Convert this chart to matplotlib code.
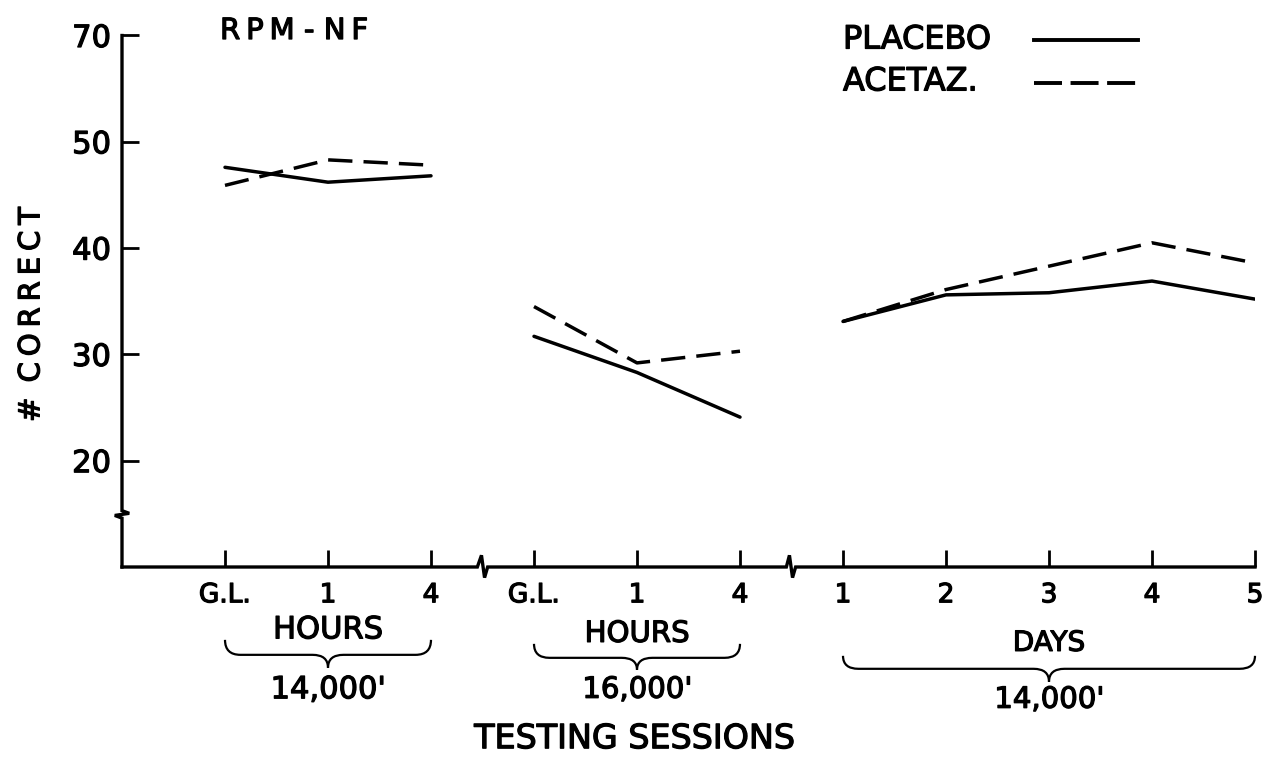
import matplotlib
matplotlib.use("Agg")
import matplotlib.pyplot as plt
from matplotlib.path import Path
from matplotlib.patches import PathPatch
import matplotlib.patheffects as pe

plt.rcParams['font.family'] = ['DejaVu Sans']

# ---- data ----
tick_labels = ["G.L.", "1", "4", "G.L.", "1", "4", "1", "2", "3", "4", "5"]
sessions = list(range(1, 12))            # category index of each testing session
group1 = [1, 2, 3]                       # 14,000' hours
group2 = [4, 5, 6]                       # 16,000' hours
group3 = [7, 8, 9, 10, 11]               # 14,000' days

placebo_g1 = [47.6, 46.2, 46.8]
placebo_g2 = [31.7, 28.3, 24.1]
placebo_g3 = [33.1, 35.6, 35.8, 36.9, 35.2]

acetaz_g1 = [45.9, 48.3, 47.8]
acetaz_g2 = [34.5, 29.2, 30.3]
acetaz_g3 = [33.1, 36.1, 38.3, 40.5, 38.6]

ytick_vals = [20, 30, 40, 50, 60]
ytick_labels = ["20", "30", "40", "50", "70"]

group_names = ["HOURS", "HOURS", "DAYS"]
altitudes = ["14,000'", "16,000'", "14,000'"]

# ---- figure ----
W, H = 1266, 761
fig = plt.figure(figsize=(W / 100, H / 100), dpi=100)
ax = fig.add_axes([122 / W, 1 - 567 / H, (1255 - 122) / W, (567 - 35.5) / H])
ax.set_xlim(0, 11)
ax.set_ylim(10, 60)
for s in ax.spines.values():
    s.set_visible(False)

bold = [pe.withStroke(linewidth=0.9, foreground='black')]

def py(p):
    """pixel row -> data y (for annotations under the axis)"""
    return 10 - (p - 567) / 10.65

lw = 2.5
dash = (0, (7, 3.2))
for xs, ys in [(group1, placebo_g1), (group2, placebo_g2), (group3, placebo_g3)]:
    ax.plot(xs, ys, color='black', lw=lw, solid_capstyle='round')
for xs, ys in [(group1, acetaz_g1), (group2, acetaz_g2), (group3, acetaz_g3)]:
    ax.plot(xs, ys, color='black', lw=lw, linestyle=dash)

# axes lines with breaks
k = dict(color='black', lw=2.4, clip_on=False, solid_joinstyle='miter')
ax.plot([0, 0, 0.07, -0.07, 0, 0], [60, 15.3, 15.05, 14.85, 14.6, 10], **k)
ax.plot([0, 3.45, 3.49, 3.52, 3.55, 6.45, 6.48, 6.51, 6.54, 11],
        [10, 10, 11.1, 9.0, 10, 10, 11.1, 9.0, 10, 10], **k)

ax.set_yticks(ytick_vals)
ax.set_yticklabels(ytick_labels, fontsize=22)
ax.set_xticks(sessions)
ax.set_xticklabels(tick_labels, fontsize=19)
ax.tick_params(axis='y', direction='in', length=12, width=2, pad=8)
ax.tick_params(axis='x', direction='in', length=12, width=2, pad=11)
for t in ax.get_xticklabels() + ax.get_yticklabels():
    t.set_path_effects(bold)

# braces
def brace(x0, x1, ytop, ymid, ytip):
    xc = (x0 + x1) / 2
    d = 0.15
    verts = [(x0, ytop), (x0, ymid), (x0 + d, ymid),
             (xc - d, ymid), (xc, ymid), (xc, ytip),
             (xc, ymid), (xc + d, ymid),
             (x1 - d, ymid), (x1, ymid), (x1, ytop)]
    codes = [Path.MOVETO, Path.CURVE3, Path.CURVE3,
             Path.LINETO, Path.CURVE3, Path.CURVE3,
             Path.CURVE3, Path.CURVE3,
             Path.LINETO, Path.CURVE3, Path.CURVE3]
    ax.add_patch(PathPatch(Path(verts, codes), fill=False, lw=1.6,
                           edgecolor='black', clip_on=False))

def txt(x, y, s, size, **kw):
    ax.text(x, y, s, fontsize=size, path_effects=bold, **kw)

groups = [group1, group2, group3]
rows = [(640, 655, 668, 630, 690), (644, 658, 670, 634, 690), (656, 669, 682, 643, 700)]
name_sizes = [22, 21, 20]
alt_sizes = [22, 21, 21]
for g, name, alt, (yt, ym, yp, yn, ya), ns, as_ in zip(groups, group_names, altitudes,
                                                       rows, name_sizes, alt_sizes):
    brace(g[0], g[-1], py(yt), py(ym), py(yp))
    xc = (g[0] + g[-1]) / 2
    txt(xc, py(yn), name, ns, ha='center', va='center')
    txt(xc, py(ya), alt, as_, ha='center', va='center')

txt(4.98, py(739), "TESTING SESSIONS", 24, ha='center', va='center')
txt(-0.88, py(314), "#\u2009 C\u2009O\u2009R\u2009R\u2009E\u2009C\u2009T", 21,
    ha='center', va='center', rotation=90)
txt(1.67, py(30), "R\u2009P\u2009M - N\u2009F", 21, ha='center', va='center')

# legend
txt(7.0, py(39), "PLACEBO", 23, ha='left', va='center')
txt(7.0, py(81), "ACETAZ.", 23, ha='left', va='center')
ax.plot([8.85, 9.86], [py(39), py(39)], color='black', lw=2.8, clip_on=False)
ax.plot([8.85, 9.86], [py(82), py(82)], color='black', lw=2.8,
        linestyle=(0, (7.2, 2.2)), clip_on=False)

fig.savefig("out.png", dpi=100)
